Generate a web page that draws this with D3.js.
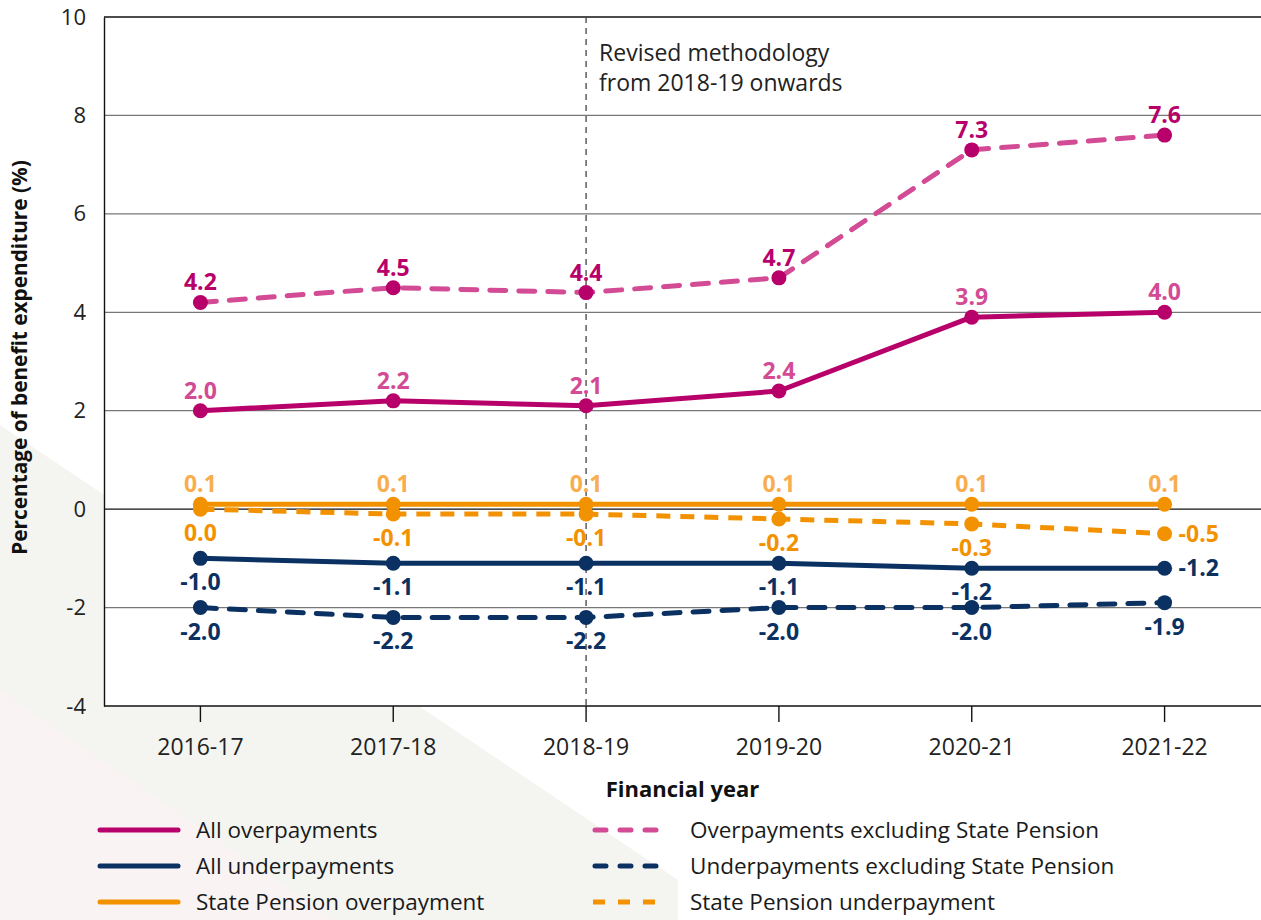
<!DOCTYPE html>
<html>
<head>
<meta charset="utf-8">
<script src="https://cdn.jsdelivr.net/npm/d3@7"></script>
<style>
  html, body { margin: 0; padding: 0; background: #fff; }
  svg { display: block; font-family: "Open Sans", "DejaVu Sans", sans-serif; }
</style>
</head>
<body>
<svg id="chart" width="1261" height="920"></svg>
<script>
// Financial years on the x axis
const years = ["2016-17", "2017-18", "2018-19", "2019-20", "2020-21", "2021-22"];

// Percentage of benefit expenditure, one array per series
const allOverpayments      = [2.0, 2.2, 2.1, 2.4, 3.9, 4.0];
const overpaymentsExclSP   = [4.2, 4.5, 4.4, 4.7, 7.3, 7.6];
const allUnderpayments     = [-1.0, -1.1, -1.1, -1.1, -1.2, -1.2];
const underpaymentsExclSP  = [-2.0, -2.2, -2.2, -2.0, -2.0, -1.9];
const spOverpayment        = [0.1, 0.1, 0.1, 0.1, 0.1, 0.1];
const spUnderpayment       = [0.0, -0.1, -0.1, -0.2, -0.3, -0.5];

// Y axis ticks
const yTicks = [-4, -2, 0, 2, 4, 6, 8, 10];

// Year from which the methodology changed
const methodologyYear = "2018-19";

const svg = d3.select("#chart");
const W = 1261, H = 920;
const plot = { left: 104, right: 1261, top: 17, bottom: 706 };

// Decorative background panels
svg.append("polygon")
  .attr("points", `0,425 678,880 678,${H} 0,${H}`)
  .attr("fill", "#f4f5f1");
svg.append("polygon")
  .attr("points", `0,690 335,${H} 0,${H}`)
  .attr("fill", "#f9f3f4");

const x = d3.scaleBand().domain(years).range([plot.left, plot.right]);
const cx = d => x(d) + x.bandwidth() / 2;
const y = d3.scaleLinear().domain([-4, 10]).range([plot.bottom, plot.top]);

// Plain hyphen for negative numbers
const hy = s => s.replace("\u2212", "-");

// White plot area
svg.append("rect")
  .attr("x", plot.left).attr("y", plot.top)
  .attr("width", plot.right - plot.left).attr("height", plot.bottom - plot.top)
  .attr("fill", "#fff");

// Gridlines
const strong = new Set([10, 0, -4]);
svg.append("g").selectAll("line").data(yTicks).join("line")
  .attr("x1", plot.left).attr("x2", plot.right)
  .attr("y1", d => y(d)).attr("y2", d => y(d))
  .attr("stroke", d => strong.has(d) ? "#111" : "#777")
  .attr("stroke-width", d => strong.has(d) ? 1.4 : 1.2);

// Y axis
const yAxis = svg.append("g")
  .attr("transform", `translate(${plot.left},0)`)
  .call(d3.axisLeft(y).tickValues(yTicks).tickSize(0).tickPadding(18)
    .tickFormat(d => hy(d3.format("d")(d))));
yAxis.select(".domain").attr("stroke", "#111").attr("stroke-width", 1.4);
yAxis.selectAll("text").attr("font-size", 22).attr("fill", "#222")
  .attr("font-family", "Open Sans").attr("dy", "0.32em");

// X axis
const xAxis = svg.append("g")
  .attr("transform", `translate(0,${plot.bottom})`)
  .call(d3.axisBottom(x).tickSize(16).tickPadding(17));
xAxis.select(".domain").remove();
xAxis.selectAll(".tick line").attr("stroke", "#111").attr("stroke-width", 1.4);
xAxis.selectAll("text").attr("font-size", 23).attr("fill", "#222")
  .attr("font-family", "Open Sans");

// Axis titles
svg.append("text")
  .attr("x", (plot.left + plot.right) / 2).attr("y", 797)
  .attr("text-anchor", "middle").attr("font-weight", 700).attr("font-size", 22)
  .attr("fill", "#111").text("Financial year");
svg.append("text")
  .attr("transform", `translate(27,${(plot.top + plot.bottom) / 2 - 4}) rotate(-90)`)
  .attr("text-anchor", "middle").attr("font-weight", 700).attr("font-size", 20.8)
  .attr("fill", "#111").text("Percentage of benefit expenditure (%)");

// Methodology change marker
svg.append("line")
  .attr("x1", cx(methodologyYear)).attr("x2", cx(methodologyYear))
  .attr("y1", plot.top).attr("y2", plot.bottom)
  .attr("stroke", "#444").attr("stroke-width", 1.3).attr("stroke-dasharray", "6,5");
const note = svg.append("text").attr("font-size", 23).attr("fill", "#222");
note.append("tspan").attr("x", cx(methodologyYear) + 13).attr("y", 61).text("Revised methodology");
note.append("tspan").attr("x", cx(methodologyYear) + 13).attr("y", 91).text("from 2018-19 onwards");

// Series definitions
const pink = "#b8006b", pinkLight = "#d24b94";
const orange = "#f39200", orangeLight = "#f8ad4e";
const navy = "#0a3162";
const series = [
  { name: "Overpayments excluding State Pension", values: overpaymentsExclSP, line: pinkLight, dot: pink, label: pink,
    dash: "16,13", cap: "round", pos: ["above","above","above","above","above","above"] },
  { name: "All overpayments", values: allOverpayments, line: pink, dot: pink, label: pinkLight,
    dash: null, cap: "round", pos: ["above","above","above","above","above","above"] },
  { name: "State Pension underpayment", values: spUnderpayment, line: orange, dot: orange, label: orange,
    dash: "14,10", cap: "butt", pos: ["below","below","below","below","below","right"] },
  { name: "State Pension overpayment", values: spOverpayment, line: orange, dot: orange, label: orangeLight,
    dash: null, cap: "round", pos: ["above","above","above","above","above","above"] },
  { name: "All underpayments", values: allUnderpayments, line: navy, dot: navy, label: navy,
    dash: null, cap: "round", pos: ["below","below","below","below","below","right"] },
  { name: "Underpayments excluding State Pension", values: underpaymentsExclSP, line: navy, dot: navy, label: navy,
    dash: "16,13", cap: "round", pos: ["below","below","below","below","below","below"] }
];

const lineGen = d3.line().x((d, i) => cx(years[i])).y(d => y(d));

const gLines = svg.append("g");
series.forEach(s => {
  gLines.append("path")
    .attr("d", lineGen(s.values))
    .attr("fill", "none")
    .attr("stroke", s.line)
    .attr("stroke-width", 5)
    .attr("stroke-linecap", s.cap)
    .attr("stroke-linejoin", "round")
    .attr("stroke-dasharray", s.dash);
});

const gDots = svg.append("g");
series.forEach(s => {
  gDots.selectAll(null).data(s.values).join("circle")
    .attr("cx", (d, i) => cx(years[i])).attr("cy", d => y(d))
    .attr("r", 7.5).attr("fill", s.dot);
});

const fmt = v => hy(d3.format(".1f")(v));
const gLabels = svg.append("g").attr("font-weight", 700).attr("font-size", 23);
series.forEach(s => {
  gLabels.selectAll(null).data(s.values).join("text")
    .attr("fill", s.label)
    .attr("x", (d, i) => s.pos[i] === "right" ? cx(years[i]) + 14 : cx(years[i]))
    .attr("y", (d, i) => {
      const p = s.pos[i];
      if (p === "above") return y(d) - 12;
      if (p === "below") return y(d) + 32;
      return y(d) + 8;
    })
    .attr("text-anchor", (d, i) => s.pos[i] === "right" ? "start" : "middle")
    .text(d => fmt(d));
});

// Legend
const legendLeft = [series[1], series[4], series[3]];
const legendRight = [series[0], series[5], series[2]];
const rowsY = [830, 866, 902];
const legend = svg.append("g");
legendLeft.forEach((s, i) => {
  legend.append("line")
    .attr("x1", 100).attr("x2", 178).attr("y1", rowsY[i]).attr("y2", rowsY[i])
    .attr("stroke", s.line).attr("stroke-width", 5).attr("stroke-linecap", s.cap);
  legend.append("text").attr("x", 196).attr("y", rowsY[i] + 8)
    .attr("font-size", 22.5).attr("fill", "#1a1a1a").text(s.name);
});
legendRight.forEach((s, i) => {
  const isButt = s.cap === "butt";
  legend.append("line")
    .attr("x1", isButt ? 593 : 595).attr("x2", 658).attr("y1", rowsY[i]).attr("y2", rowsY[i])
    .attr("stroke", s.line).attr("stroke-width", 5).attr("stroke-linecap", s.cap)
    .attr("stroke-dasharray", isButt ? "12,13" : "11,14");
  legend.append("text").attr("x", 690).attr("y", rowsY[i] + 8)
    .attr("font-size", 22.5).attr("fill", "#1a1a1a").text(s.name);
});
</script>
</body>
</html>
